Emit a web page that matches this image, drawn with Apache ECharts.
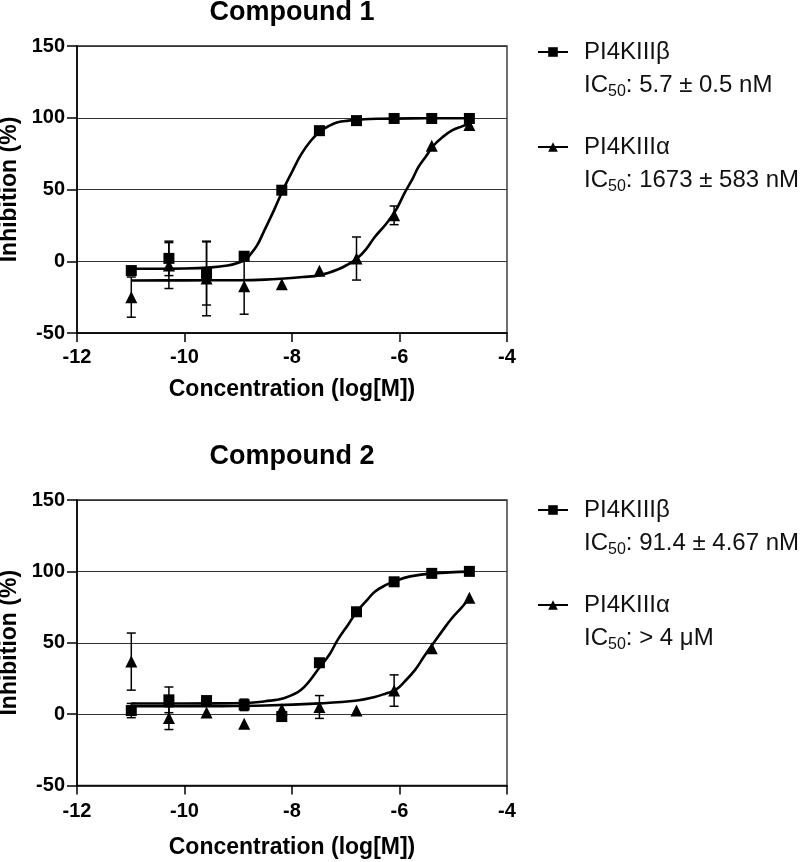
<!DOCTYPE html>
<html><head><meta charset="utf-8">
<script src="https://cdn.jsdelivr.net/npm/echarts@6/dist/echarts.min.js"></script>
<style>html,body{margin:0;padding:0;background:#fff}#c{width:800px;height:862px}</style>
</head><body><div id="c"></div>
<script>
// ---- data ----
const xTicks = [-12, -10, -8, -6, -4];
const yTicks = [-50, 0, 50, 100, 150];
const logConc = [-10.99, -10.29, -9.59, -8.89, -8.19, -7.49, -6.80, -6.10, -5.40, -4.70];

// Compound 1
const c1Beta    = [-6.5, 2, -8.5, 3.5, 49.5, 91, 98, 99.5, 99.5, 99.5];
const c1BetaErr = [0, 12, 22, 0, 0, 0, 0, 0, 0, 0];
const c1Alpha    = [-25, -3, -12, -17.4, -16, -6.7, 1.9, 32, 80.5, 95];
const c1AlphaErr = [14, 16, 26, 19.5, 0, 0, 15, 6.5, 0, 0];
const c1BetaFitX = [-10.99, -10, -9.5, -9.2, -9.0, -8.87, -8.77, -8.65, -8.52, -8.33, -8.17, -7.99, -7.83, -7.65, -7.48, -7.3, -7.15, -6.95, -6.79, -6.4, -5.5, -4.70];
const c1BetaFitY = [-5.2, -5, -4.3, -3, -1, 1, 5, 11, 21, 36, 49.5, 63, 74.5, 84, 90.5, 94.5, 96.8, 98, 98.6, 99.3, 99.6, 99.7];
const c1AlphaFitX = [-10.99, -10, -9.0, -8.5, -8.14, -7.8, -7.48, -7.15, -6.95, -6.79, -6.62, -6.46, -6.25, -6.07, -5.9, -5.75, -5.65, -5.5, -5.37, -5.2, -5.03, -4.85, -4.70];
const c1AlphaFitY = [-13.4, -13.3, -13.2, -12.8, -12, -11, -9.7, -5.8, -2, 1.9, 8.5, 16.9, 26, 35.4, 48, 58, 65.5, 73.5, 80.5, 86.5, 91, 93.8, 95.6];

// Compound 2
const c2Beta    = [2.5, 10, 9.5, 6.5, -1.7, 36, 71.7, 92.7, 98.6, 100];
const c2BetaErr = [5, 9, 0, 4, 0, 0, 0, 0, 0, 0];
const c2Alpha    = [36.8, -2.8, 1.1, -6.8, 3.5, 5, 2.5, 16.5, 46.2, 81.5];
const c2AlphaErr = [20, 8, 0, 0, 0, 8, 0, 11, 0, 0];
const c2BetaFitX = [-10.99, -9.5, -8.77, -8.5, -8.17, -7.83, -7.48, -7.3, -7.15, -6.95, -6.79, -6.6, -6.46, -6.25, -6.07, -5.8, -5.37, -4.70];
const c2BetaFitY = [7.4, 7.5, 8, 9, 11, 17, 33, 42, 52, 63, 72, 80, 85.8, 90.5, 93.5, 96.5, 98.6, 99.8];
const c2AlphaFitX = [-10.99, -9.5, -8.5, -7.48, -6.79, -6.46, -6.25, -6.07, -5.9, -5.71, -5.55, -5.37, -5.2, -5.03, -4.85, -4.70];
const c2AlphaFitY = [5.5, 5.6, 6, 7.5, 9.5, 12, 14.5, 17, 23, 31, 40, 49.6, 58.5, 67, 74.5, 81];

const titles = ['Compound 1', 'Compound 2'];
const seriesLabels = ['PI4KIIIβ', 'PI4KIIIα'];
const ic50Labels = [['5.7 ± 0.5 nM', '1673 ± 583 nM'], ['91.4 ± 4.67 nM', '> 4 μM']];
const xName = 'Concentration (log[M])';
const yName = 'Inhibition (%)';

// ---- chart ----
const FONT = '"Liberation Sans", Arial, Helvetica, sans-serif';
const chart = echarts.init(document.getElementById('c'), null, {renderer: 'canvas'});

const zip = (xs, ys) => xs.map((x, i) => [x, ys[i]]);
const errData = (ys, es) => logConc.map((x, i) => [x, ys[i] - es[i], ys[i] + es[i], es[i]]).filter(d => d[3] > 0);

function grid(top, height) {
  return {left: 77, width: 430, top, height, show: true, borderColor: '#222', borderWidth: 1.3,
    backgroundColor: 'transparent', containLabel: false, outerBoundsMode: 'none'};
}
function xAxis(idx, margin, gap) {
  return {
    type: 'value', gridIndex: idx, min: xTicks[0], max: xTicks[xTicks.length - 1], interval: xTicks[1] - xTicks[0],
    axisLine: {show: true, onZero: false, lineStyle: {color: '#000', width: 1.6}},
    axisTick: {show: true, length: 9, lineStyle: {color: '#000', width: 1.5}},
    axisLabel: {color: '#000', fontSize: 20, fontWeight: 'bold', fontFamily: FONT, margin},
    splitLine: {show: false},
    name: xName, nameLocation: 'middle', nameGap: gap,
    nameTextStyle: {fontSize: 23, fontWeight: 'bold', color: '#000', fontFamily: FONT}
  };
}
function yAxis(idx) {
  return {
    type: 'value', gridIndex: idx, min: yTicks[0], max: yTicks[yTicks.length - 1], interval: yTicks[1] - yTicks[0],
    axisLine: {show: true, onZero: false, lineStyle: {color: '#000', width: 1.6}},
    axisTick: {show: true, length: 10, lineStyle: {color: '#000', width: 1.5}},
    axisLabel: {color: '#000', fontSize: 20, fontWeight: 'bold', fontFamily: FONT, margin: 12},
    splitLine: {show: true, lineStyle: {color: '#333', width: 1.2}},
    name: yName, nameLocation: 'middle', nameGap: 49, nameRotate: 90,
    nameTextStyle: {fontSize: 23, fontWeight: 'bold', color: '#000', fontFamily: FONT}
  };
}
function curve(name, idx, xs, ys, sym) {
  return {type: 'line', name, xAxisIndex: idx, yAxisIndex: idx, data: zip(xs, ys), symbol: sym, showSymbol: false,
    smooth: 0.4, lineStyle: {color: '#000', width: 2.6}, itemStyle: {color: '#000'}, z: 3, silent: true};
}
function points(name, idx, ys, sym, size) {
  return {type: 'scatter', name, xAxisIndex: idx, yAxisIndex: idx, data: zip(logConc, ys), symbol: sym, symbolSize: size,
    itemStyle: {color: '#000', opacity: 1}, z: 5, silent: true};
}
function errBars(name, idx, data) {
  return {type: 'custom', name, xAxisIndex: idx, yAxisIndex: idx, data, z: 4, silent: true,
    encode: {x: 0, y: [1, 2]},
    renderItem: (params, api) => {
      const x = api.value(0);
      const lo = api.coord([x, api.value(1)]);
      const hi = api.coord([x, api.value(2)]);
      const w = 4.5;
      const st = {stroke: '#000', lineWidth: 1.5};
      return {type: 'group', children: [
        {type: 'line', shape: {x1: lo[0], y1: lo[1], x2: hi[0], y2: hi[1]}, style: st},
        {type: 'line', shape: {x1: hi[0] - w, y1: hi[1], x2: hi[0] + w, y2: hi[1]}, style: st},
        {type: 'line', shape: {x1: lo[0] - w, y1: lo[1], x2: lo[0] + w, y2: lo[1]}, style: st}
      ]};
    }};
}
function legend(name, top, label, ic) {
  const base = {fontSize: 24, lineHeight: 33, color: '#111', fontFamily: FONT};
  return {
    data: [name], orient: 'vertical', left: 537, top, padding: 0, itemWidth: 30, itemHeight: 12,
    selectedMode: false,
    formatter: () => '{g| }\n{n|' + label + '}\n{t|IC}{s|50}{t|: ' + ic + '}',
    textStyle: {padding: [0, 0, 0, 11], rich: {
      g: base, n: base, t: base,
      s: {fontSize: 16, lineHeight: 16, verticalAlign: 'bottom', padding: [0, 0, 2, 0], color: '#111', fontFamily: FONT}
    }}
  };
}

const n1b = seriesLabels[0] + ' ', n1a = seriesLabels[1] + ' ';
const n2b = seriesLabels[0] + '  ', n2a = seriesLabels[1] + '  ';

const option = {
  animation: false,
  backgroundColor: '#fff',
  textStyle: {fontFamily: FONT},
  title: [
    {text: titles[0], left: 292, top: -1, textAlign: 'center', padding: 0, textStyle: {fontSize: 27, fontWeight: 'bold', color: '#000', fontFamily: FONT}},
    {text: titles[1], left: 292, top: 443, textAlign: 'center', padding: 0, textStyle: {fontSize: 27, fontWeight: 'bold', color: '#000', fontFamily: FONT}}
  ],
  grid: [grid(46, 287), grid(500, 285.5)],
  xAxis: [xAxis(0, 14, 45), xAxis(1, 16, 51)],
  yAxis: [yAxis(0), yAxis(1)],
  legend: [
    legend(n1b, 7, seriesLabels[0], ic50Labels[0][0]),
    legend(n1a, 102, seriesLabels[1], ic50Labels[0][1]),
    legend(n2b, 465, seriesLabels[0], ic50Labels[1][0]),
    legend(n2a, 560, seriesLabels[1], ic50Labels[1][1])
  ],
  series: [
    curve(n1b, 0, c1BetaFitX, c1BetaFitY, 'rect'),
    curve(n1a, 0, c1AlphaFitX, c1AlphaFitY, 'triangle'),
    curve(n2b, 1, c2BetaFitX, c2BetaFitY, 'rect'),
    curve(n2a, 1, c2AlphaFitX, c2AlphaFitY, 'triangle'),
    errBars('err1b', 0, errData(c1Beta, c1BetaErr)),
    errBars('err1a', 0, errData(c1Alpha, c1AlphaErr)),
    errBars('err2b', 1, errData(c2Beta, c2BetaErr)),
    errBars('err2a', 1, errData(c2Alpha, c2AlphaErr)),
    points(n1b, 0, c1Beta, 'rect', 11),
    points(n1a, 0, c1Alpha, 'triangle', 12),
    points(n2b, 1, c2Beta, 'rect', 11),
    points(n2a, 1, c2Alpha, 'triangle', 12)
  ]
};
chart.setOption(option);
</script>
</body></html>
